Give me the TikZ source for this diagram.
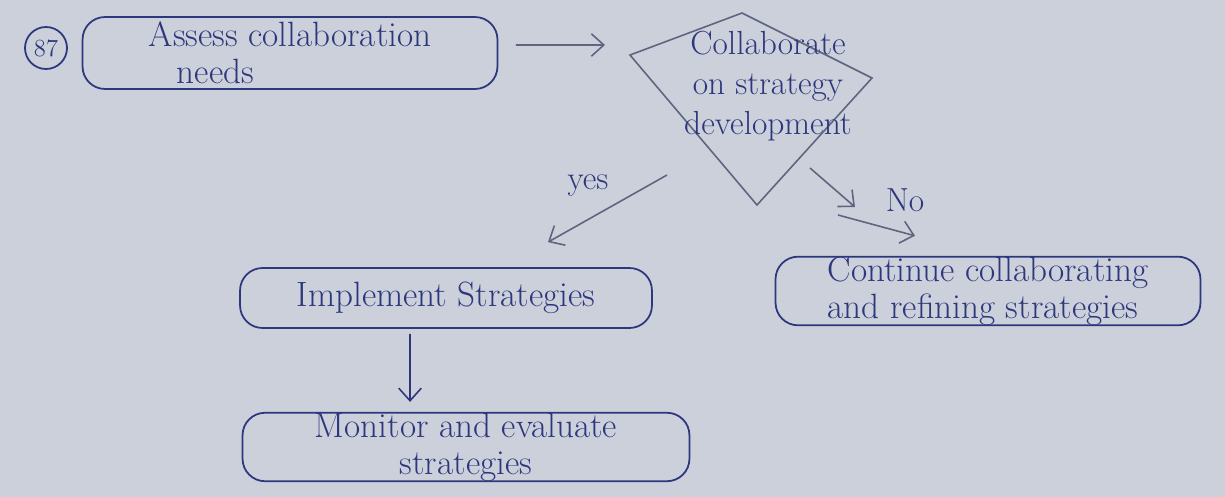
\documentclass[tikz,border=0pt]{standalone}
\usepackage{tikz}
\usetikzlibrary{arrows.meta,positioning}
\definecolor{paper}{RGB}{204,208,218}
\definecolor{ink}{RGB}{45,55,125}
\definecolor{pencil}{RGB}{95,100,128}

\begin{document}
\begin{tikzpicture}[x=0.02cm,y=-0.02cm,>={Straight Barb[length=2.5mm,width=4.5mm]},
  every node/.style={text=ink,font=\fontsize{20}{21}\selectfont},
  procbox/.style={draw=ink,line width=1pt,rounded corners=0.45cm,minimum height=1.2cm,inner ysep=0pt},
  link/.style={->,draw=pencil,line width=0.9pt}]
  \fill[paper] (0,0) rectangle (1225,497);

  \node[draw=ink,circle,line width=1pt,inner sep=0pt,minimum size=0.84cm,font=\fontsize{14}{14}\selectfont] (num) at (46,48) {87};
  \node[procbox,minimum width=8.3cm,minimum height=1.44cm,align=left] (assess) at (290,53) {Assess collaboration\\\hspace{0.8em}needs};

  % decision
  \coordinate (dl) at (630,55);
  \coordinate (dt) at (742,13);
  \coordinate (dr) at (872,78);
  \coordinate (db) at (757,205);
  \draw[pencil,line width=0.9pt] (dl) -- (dt) -- (dr) -- (db) -- cycle;
  \node[align=center,font=\fontsize{19}{23}\selectfont] (decide) at (768,86) {Collaborate\\on strategy\\development};

  \node[procbox,minimum width=8.24cm] (implement) at (446,298) {Implement Strategies};
  \node[procbox,minimum width=8.5cm,minimum height=1.24cm,align=left] (continue) at (988,291) {Continue collaborating\\and refining strategies};
  \node[procbox,minimum width=8.94cm,minimum height=1.26cm,align=center] (monitor) at (466,447) {Monitor and evaluate\\strategies};

  \node[font=\fontsize{19}{19}\selectfont] (yes) at (588,186) {yes};
  \node[font=\fontsize{19}{19}\selectfont] (no) at (905,200) {No};

  \coordinate (nomid) at (855,207);
  \coordinate (nomid2) at (838,215);

  \draw[link] ([xshift=0.35cm,yshift=0.16cm]assess.east) -- ([xshift=-0.5cm,yshift=0.2cm]dl);
  \draw[link] ([xshift=-1.8cm,yshift=0.6cm]db) -- ([xshift=2.04cm,yshift=0.5cm]implement.north);
  \draw[link] ([xshift=-1.24cm,yshift=-1.8cm]dr) -- (nomid);
  \draw[link] (nomid2) -- ([xshift=-1.46cm,yshift=0.4cm]continue.north);
  \draw[link,draw=ink] ([xshift=-0.72cm,yshift=-0.1cm]implement.south) -- ([xshift=-1.12cm,yshift=0.2cm]monitor.north);
\end{tikzpicture}
\end{document}
